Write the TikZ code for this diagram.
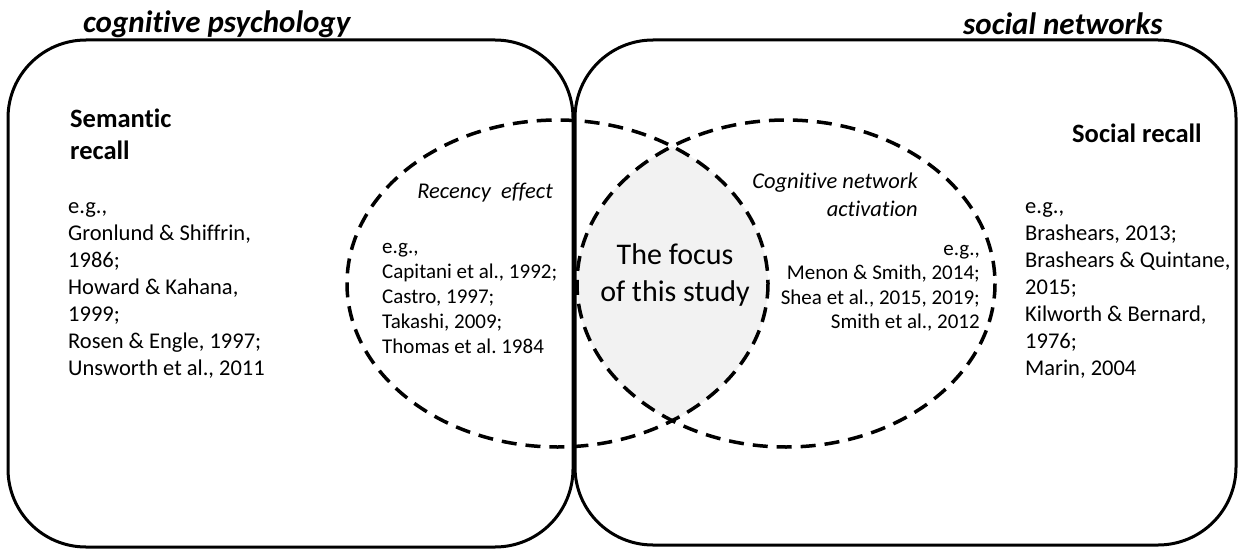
\documentclass[tikz,border=0pt]{standalone}
\usepackage{fontspec}
\setmainfont{Carlito}[Ligatures={NoCommon}]
\definecolor{lensgray}{HTML}{F2F2F2}
\begin{document}
\begin{tikzpicture}[x=1pt,y=-1pt,
  box/.style={line width=3pt, rounded corners=78pt},
  dashring/.style={line width=3.5pt, dash pattern=on 15pt off 9pt},
  title/.style={font=\fontsize{31}{37}\selectfont\bfseries\itshape, inner sep=0pt},
  head/.style={font=\fontsize{26.5}{32}\selectfont\bfseries, inner sep=0pt, align=left},
  body/.style={font=\fontsize{22.5}{27}\selectfont, inner sep=0pt, align=left},
  smallleft/.style={font=\fontsize{21}{25}\selectfont, inner sep=0pt, align=left},
  smallright/.style={font=\fontsize{21}{24.5}\selectfont, inner sep=0pt, align=right},
  lab/.style={font=\fontsize{22.5}{27.5}\selectfont\itshape, inner sep=0pt, align=right},
  focus/.style={font=\fontsize{30}{37}\selectfont, inner sep=0pt, align=center}]
\useasboundingbox (0,0) rectangle (1239,551);
% lens fill
\begin{scope}
\clip (786,283.5) ellipse [x radius=209, y radius=163.5];
\fill[lensgray] (557.5,283.5) ellipse [x radius=210.5, y radius=163.5];
\end{scope}
% boxes
\draw[box] (8,40) rectangle (573,547);
\draw[box] (575,40) rectangle (1236,545);
% dashed ellipses
\draw[dashring] (557.5,283.5) ellipse [x radius=210.5, y radius=163.5];
\draw[dashring] (786,283.5) ellipse [x radius=209, y radius=163.5];
% titles
\node[title, anchor=west] (tcog) at (83,24) {cognitive psychology};
\node[title, anchor=west] (tsoc) at (963,24) {social networks};
% left box
\node[head, anchor=north west] (semhead) at (70,109) {Semantic\\recall};
\node[body, anchor=north west] (semlist) at (68,202.5) {e.g.,\\Gronlund \& Shiffrin,\\1986;\\Howard \& Kahana,\\1999;\\Rosen \& Engle, 1997;\\Unsworth et al., 2011};
% recency ellipse
\node[lab, anchor=east] (reclab) at (553,193) {Recency\ \ effect};
\node[smallleft, anchor=north west] (reclist) at (382,243) {e.g.,\\Capitani et al., 1992;\\Castro, 1997;\\Takashi, 2009;\\Thomas et al.\ 1984};
% focus
\node[focus] (focus) at (675,275) {The focus\\of this study};
% cognitive network ellipse
\node[lab, anchor=north east] (cnlab) at (918,173) {Cognitive network\\activation};
\node[smallright, anchor=north east] (cnlist) at (980,245) {e.g.,\\Menon \& Smith, 2014;\\Shea et al., 2015, 2019;\\Smith et al., 2012};
% right box
\node[head, anchor=west] (sochead) at (1072,133) {Social recall};
\node[body, anchor=north west] (soclist) at (1025,202.5) {e.g.,\\Brashears, 2013;\\Brashears \& Quintane,\\2015;\\Kilworth \& Bernard,\\1976;\\Marin, 2004};
\end{tikzpicture}
\end{document}
